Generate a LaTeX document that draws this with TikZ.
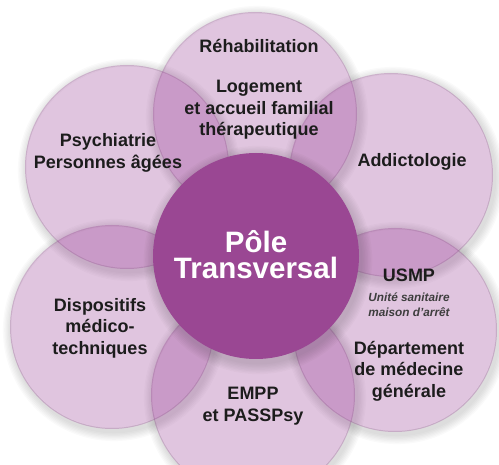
\documentclass[tikz,border=0pt]{standalone}
\usepackage{fontspec}
\setmainfont{Liberation Sans}
\definecolor{petalviolet}{RGB}{136,32,132}
\definecolor{poleviolet}{RGB}{154,71,147}
\definecolor{txtdark}{RGB}{28,28,28}

\begin{document}
\begin{tikzpicture}[x=1pt,y=-1pt,
  petal/.style={circle,minimum size=204pt,inner sep=0pt,fill=petalviolet,fill opacity=0.26},
  pole/.style={circle,minimum size=206pt,inner sep=0pt,fill=poleviolet},
  petaltxt/.style={align=center,font=\bfseries\fontsize{18}{21.5}\selectfont,text=txtdark},
  smalltxt/.style={align=center,font=\bfseries\itshape\fontsize{11.8}{15}\selectfont,text=txtdark!85},
  poletxt/.style={inner sep=0pt,font=\bfseries\fontsize{29.5}{30}\selectfont,text=white}]
  \useasboundingbox (0,0) rectangle (499,465);

  % soft shadows under the petals
  \foreach \cx/\cy in {255/114,127/167,391/175,112/327,395/330,253/395}{
    \foreach \k in {1,...,7}
      \fill[black,opacity=0.018,even odd rule] (\cx+2,\cy+3) circle (102+\k*1.3) (\cx,\cy) circle (101);
  }

  % the six petals
  \node[petal] (rehab) at (255,114) {};
  \node[petal] (psy) at (127,167) {};
  \node[petal] (addicto) at (391,175) {};
  \node[petal] (dispo) at (112,327) {};
  \node[petal] (usmp) at (395,330) {};
  \node[petal] (empp) at (253,395) {};

  % shadow of the centre
  \foreach \k in {1,...,8}
    \fill[black,opacity=0.02,even odd rule] (258,260) circle (103+\k*1.4) (256,256) circle (102);
  \node[pole] (centre) at (256,256) {};

  \node[poletxt,anchor=base,text depth=0pt] (poletitle) at (256,253) {Pôle};
  \node[poletxt,anchor=base,text height=21pt] (poletitle2) at (256,279) {Transversal};

  \node[petaltxt] (rehabtitle) at (259,46) {Réhabilitation};
  \node[petaltxt] (logement) at (259,110) {Logement\\et accueil familial\\thérapeutique};
  \node[petaltxt] (psytitle) at (108,153) {Psychiatrie\\Personnes âgées};
  \node[petaltxt] (addictotitle) at (412,162) {Addictologie};
  \node[petaltxt] (usmptitle) at (409,275) {USMP};
  \node[smalltxt] (usmpsub) at (409,305) {Unité sanitaire\\maison d’arrêt};
  \node[petaltxt] (medgen) at (409,371) {Département\\de médecine\\générale};
  \node[petaltxt] (dispotitle) at (100,328) {Dispositifs\\médico-\\techniques};
  \node[petaltxt] (empptitle) at (253,406) {EMPP\\et PASSPsy};
\end{tikzpicture}
\end{document}
